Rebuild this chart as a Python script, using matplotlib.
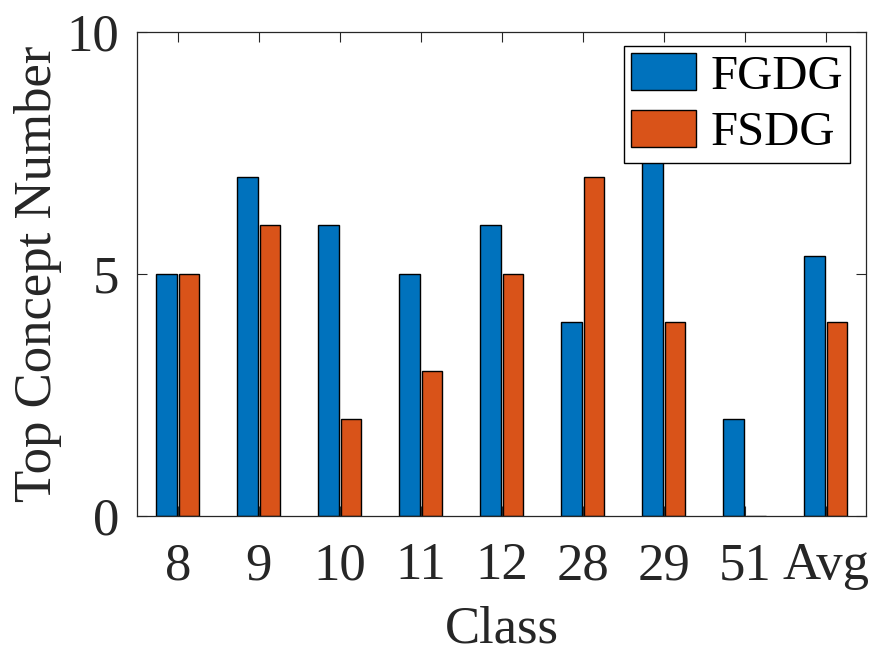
import numpy as np
import matplotlib
matplotlib.use("Agg")
import matplotlib.pyplot as plt

plt.rcParams['font.family'] = ['Liberation Serif', 'DejaVu Serif']

classes = ['8', '9', '10', '11', '12', '28', '29', '51', 'Avg']
# 29 / FGDG is hidden by the legend; 8 makes the Avg bar (5.375) consistent
fgdg = [5, 7, 6, 5, 6, 4, 8, 2, 5.375]
fsdg = [5, 6, 2, 3, 5, 7, 4, 0, 4]

fig = plt.figure(figsize=(8.75, 6.56), dpi=100)
ax = fig.add_axes([0.157, 0.2134, 0.833, 0.7383])

x = np.arange(1, len(classes) + 1)
w = 0.25
ax.bar(x - 0.14, fgdg, w, color='#0072BD', edgecolor='black', linewidth=1, label='FGDG')
ax.bar(x + 0.14, fsdg, w, color='#D95319', edgecolor='black', linewidth=1, label='FSDG')

ax.set_xlim(0.5, 9.5)
ax.set_ylim(0, 10)
ax.set_yticks([0, 5, 10])
ax.set_xticks(x)
ax.set_xticklabels(classes)
ax.tick_params(direction='in', length=7, width=0.8, labelsize=38, top=True, right=True,
               color='#262626', labelcolor='#262626')
ax.tick_params(axis='x', pad=19)
ax.tick_params(axis='y', pad=13)
for s in ax.spines.values():
    s.set_color('#262626')
    s.set_linewidth(0.9)

ax.set_xlabel('Class', fontsize=38, color='#262626', labelpad=11)
ax.set_ylabel('Top Concept Number', fontsize=38, color='#262626', labelpad=3)

leg = ax.legend(loc='upper right', bbox_to_anchor=(0.978, 0.9705), borderaxespad=0,
                fontsize=35, fancybox=False, framealpha=1, edgecolor='black',
                handlelength=1.33, handleheight=0.8, handletextpad=0.3,
                labelspacing=0.23, borderpad=0.15)
leg.get_frame().set_linewidth(1)

fig.savefig('out.png', dpi=100)
